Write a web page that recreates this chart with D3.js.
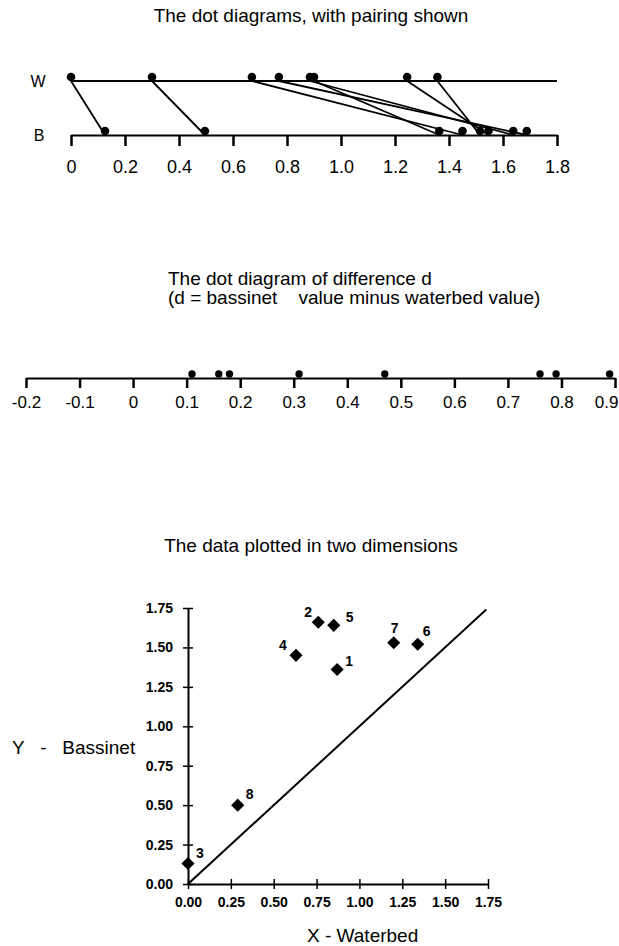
<!DOCTYPE html>
<html>
<head>
<meta charset="utf-8">
<script src="https://cdn.jsdelivr.net/npm/d3@7"></script>
<style>
  html, body { margin: 0; padding: 0; background: #fff; }
  svg { display: block; }
  text { font-family: "Liberation Sans", Arial, Helvetica, sans-serif; fill: #000; white-space: pre; }
</style>
</head>
<body>
<svg id="chart" width="619" height="946"></svg>
<script>
// Infant numbers and paired readings (waterbed vs bassinet)
const infants = [1, 2, 3, 4, 5, 6, 7, 8];
const waterbed = [0.90, 0.77, 0.00, 0.67, 0.885, 1.357, 1.245, 0.30];
const bassinet = [1.364, 1.688, 0.126, 1.45, 1.638, 1.515, 1.546, 0.496];
const pairTicks = [0, 0.2, 0.4, 0.6, 0.8, 1.0, 1.2, 1.4, 1.6, 1.8];

// Differences d = bassinet - waterbed
const differences = [0.11, 0.16, 0.18, 0.31, 0.47, 0.76, 0.79, 0.89];
const diffTicks = [-0.2, -0.1, 0, 0.1, 0.2, 0.3, 0.4, 0.5, 0.6, 0.7, 0.8, 0.9];

// Two-dimensional view of the same pairs
const scatterWaterbed = [0.87, 0.76, 0.00, 0.63, 0.85, 1.34, 1.20, 0.29];
const scatterBassinet = [1.36, 1.66, 0.13, 1.45, 1.64, 1.52, 1.53, 0.50];
const scatterTicks = [0, 0.25, 0.5, 0.75, 1.0, 1.25, 1.5, 1.75];

const svg = d3.select("#chart");
// plain hyphen for negatives, "0" without decimals
const oneDec = v => (v === 0 ? "0" : d3.format(".1f")(v).replace("\u2212", "-"));

// ---------- Panel 1: dot diagrams with pairing ----------
const p1 = svg.append("g");
p1.append("text").attr("x", 311).attr("y", 22).attr("text-anchor", "middle")
  .style("font-size", "19px").text("The dot diagrams, with pairing shown");

const xPair = d3.scaleLinear().domain([0, 1.8]).range([71, 557]);
const yW = 81, yB = 135;

p1.append("text").attr("x", 38).attr("y", yW + 6).attr("text-anchor", "middle")
  .style("font-size", "16px").text("W");
p1.append("text").attr("x", 39).attr("y", yB + 6).attr("text-anchor", "middle")
  .style("font-size", "16px").text("B");

p1.append("line").attr("x1", xPair(0)).attr("x2", xPair(1.8))
  .attr("y1", yW).attr("y2", yW).attr("stroke", "#000").attr("stroke-width", 2);

const axPair = p1.append("g").attr("transform", `translate(0,${yB})`)
  .call(d3.axisBottom(xPair).tickValues(pairTicks).tickFormat(oneDec)
    .tickSize(11).tickSizeOuter(0).tickPadding(14));
axPair.select(".domain").attr("stroke-width", 2);
axPair.selectAll(".tick line").attr("stroke-width", 2.5);
axPair.selectAll(".tick text").style("font-size", "18px").attr("font-family", null);

const pairs = infants.map((n, i) => ({ n, w: waterbed[i], b: bassinet[i] }));
p1.selectAll("line.pair").data(pairs).join("line").attr("class", "pair")
  .attr("x1", d => xPair(d.w)).attr("y1", yW)
  .attr("x2", d => xPair(d.b)).attr("y2", yB)
  .attr("stroke", "#000").attr("stroke-width", 1.8);
p1.selectAll("circle.w").data(pairs).join("circle").attr("class", "w")
  .attr("cx", d => xPair(d.w)).attr("cy", yW - 4).attr("r", 4.3);
p1.selectAll("circle.b").data(pairs).join("circle").attr("class", "b")
  .attr("cx", d => xPair(d.b)).attr("cy", yB - 4).attr("r", 4.3);

// ---------- Panel 2: dot diagram of differences ----------
const p2 = svg.append("g");
p2.append("text").attr("x", 168).attr("y", 285)
  .style("font-size", "19px").text("The dot diagram of difference d");
p2.append("text").attr("x", 168).attr("y", 304)
  .style("font-size", "19px").text("(d = bassinet    value minus waterbed value)");

const xDiff = d3.scaleLinear().domain([-0.2, 0.9]).range([26, 615]);
const yD = 378;
const axDiff = p2.append("g").attr("transform", `translate(0,${yD})`)
  .call(d3.axisBottom(xDiff).tickValues(diffTicks).tickFormat(oneDec)
    .tickSize(10).tickSizeOuter(0).tickPadding(8));
axDiff.select(".domain").attr("stroke-width", 2);
axDiff.selectAll(".tick line").attr("stroke-width", 2.5);
axDiff.selectAll(".tick text").style("font-size", "17px").attr("font-family", null);
// keep the last label inside the page edge
axDiff.selectAll(".tick text").filter(d => d === 0.9)
  .attr("text-anchor", "end").attr("x", 618 - xDiff(0.9));

p2.selectAll("circle.d").data(differences).join("circle").attr("class", "d")
  .attr("cx", d => xDiff(d)).attr("cy", yD - 4).attr("r", 3.7);

// ---------- Panel 3: scatter of bassinet vs waterbed ----------
const p3 = svg.append("g");
p3.append("text").attr("x", 311).attr("y", 552).attr("text-anchor", "middle")
  .style("font-size", "19px").text("The data plotted in two dimensions");

const xS = d3.scaleLinear().domain([0, 1.75]).range([188, 488]);
const yS = d3.scaleLinear().domain([0, 1.75]).range([884, 608]);

const axX = p3.append("g").attr("transform", `translate(0,${yS(0)})`)
  .call(d3.axisBottom(xS).tickValues(scatterTicks).tickFormat(d3.format(".2f"))
    .tickSize(5).tickSizeOuter(0).tickPadding(8));
axX.select(".domain").attr("stroke-width", 2);
axX.selectAll(".tick line").attr("y1", -5).attr("stroke-width", 1.5);
axX.selectAll(".tick text").style("font-size", "14px").style("font-weight", "bold")
  .attr("font-family", null);

const axY = p3.append("g").attr("transform", `translate(${xS(0)},0)`)
  .call(d3.axisLeft(yS).tickValues(scatterTicks).tickFormat(d3.format(".2f"))
    .tickSize(5).tickSizeOuter(0).tickPadding(10));
axY.select(".domain").attr("stroke-width", 2);
axY.selectAll(".tick line").attr("x1", 5).attr("stroke-width", 1.5);
axY.selectAll(".tick text").style("font-size", "14px").style("font-weight", "bold")
  .attr("font-family", null);

// line of equality y = x
p3.append("line").attr("x1", xS(0)).attr("y1", yS(0))
  .attr("x2", xS(1.74)).attr("y2", yS(1.74))
  .attr("stroke", "#000").attr("stroke-width", 2);

const pts = infants.map((n, i) => ({ n, x: scatterWaterbed[i], y: scatterBassinet[i] }));
const labelOffset = {
  1: [8, -4], 2: [-14, -5], 3: [8, -5], 4: [-17, -5],
  5: [12, -3], 6: [5, -8], 7: [-3, -10], 8: [8, -6]
};
p3.selectAll("path.pt").data(pts).join("path").attr("class", "pt")
  .attr("d", d3.symbol(d3.symbolDiamond2, 110))
  .attr("transform", d => `translate(${xS(d.x)},${yS(d.y)})`);
p3.selectAll("text.pl").data(pts).join("text").attr("class", "pl")
  .attr("x", d => xS(d.x) + labelOffset[d.n][0])
  .attr("y", d => yS(d.y) + labelOffset[d.n][1])
  .style("font-size", "14px").style("font-weight", "bold").text(d => d.n);

svg.append("text").attr("x", 12).attr("y", 754)
  .style("font-size", "19px").text("Y   -   Bassinet");
svg.append("text").attr("x", 307).attr("y", 942)
  .style("font-size", "19px").text("X - Waterbed");
</script>
</body>
</html>
